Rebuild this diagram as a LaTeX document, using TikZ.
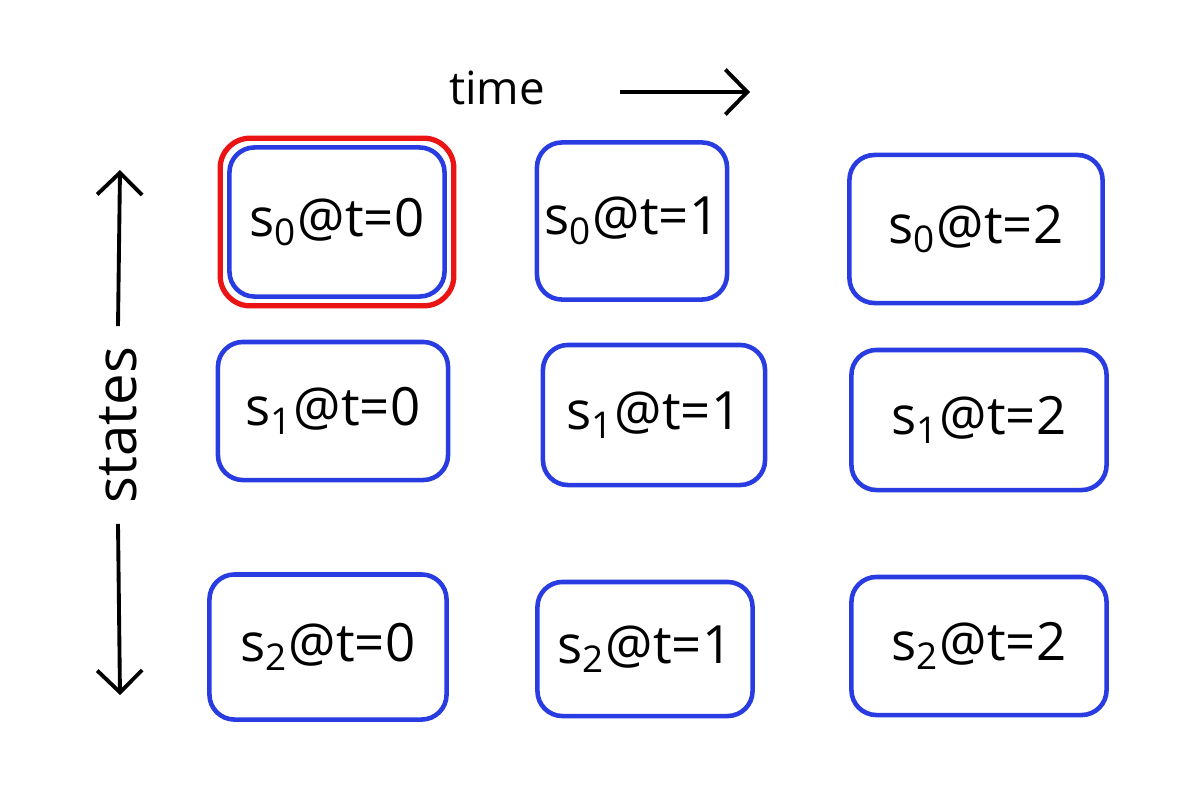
\documentclass[tikz,border=0pt]{standalone}
\usepackage{fontspec}
\setmainfont{Open Sans}
\usetikzlibrary{arrows.meta,fit}
\definecolor{penblue}{RGB}{40,60,225}
\definecolor{penred}{RGB}{235,20,20}
\tikzset{
  cell/.style={draw=penblue,line width=1.3pt,rounded corners=2.5mm,inner sep=1pt,font=\fontsize{15}{18}\selectfont},
  highlight/.style={draw=penred,line width=1.5pt,rounded corners=3mm,inner sep=0.07cm},
  axis/.style={-{Straight Barb[length=2.2mm,width=4.5mm]},line width=1.1pt},
  axislabel/.style={font=\fontsize{16}{20}\selectfont}
}
\newcommand{\st}[2]{s\textsubscript{#1}@t=#2}

\begin{document}
\begin{tikzpicture}[x=0.01cm,y=-0.01cm]
\useasboundingbox (0,0) rectangle (1200,800);
% states at the three times
\node[cell,minimum width=2.15cm,minimum height=1.49cm] (c00) at (337,222) {\st{0}{0}};
\node[cell,minimum width=1.90cm,minimum height=1.57cm] (c01) at (632,221) {\st{0}{1}};
\node[cell,minimum width=2.53cm,minimum height=1.48cm] (c02) at (976,229) {\st{0}{2}};
\node[cell,minimum width=2.30cm,minimum height=1.38cm] (c10) at (333,411) {\st{1}{0}};
\node[cell,minimum width=2.22cm,minimum height=1.40cm] (c11) at (654,415) {\st{1}{1}};
\node[cell,minimum width=2.55cm,minimum height=1.40cm] (c12) at (979,420) {\st{1}{2}};
\node[cell,minimum width=2.37cm,minimum height=1.45cm] (c20) at (328,647) {\st{2}{0}};
\node[cell,minimum width=2.15cm,minimum height=1.34cm] (c21) at (645,649) {\st{2}{1}};
\node[cell,minimum width=2.55cm,minimum height=1.38cm] (c22) at (979,646) {\st{2}{2}};
\node[highlight,fit=(c00)] (start) {};
% axes
\node[axislabel,font=\fontsize{13}{16}\selectfont] (time) at (497,88) {time};
\coordinate (t0) at (620,92);
\coordinate (t1) at (750,92);
\draw[axis] (t0) -- (t1);
\node[axislabel,rotate=90,inner sep=0.2cm] (states) at (118,425) {states};
\coordinate (s0) at (120,170);
\coordinate (s1) at (120,695);
\draw[axis] (states.east) -- (s0);
\draw[axis] (states.west) -- (s1);
\end{tikzpicture}
\end{document}
